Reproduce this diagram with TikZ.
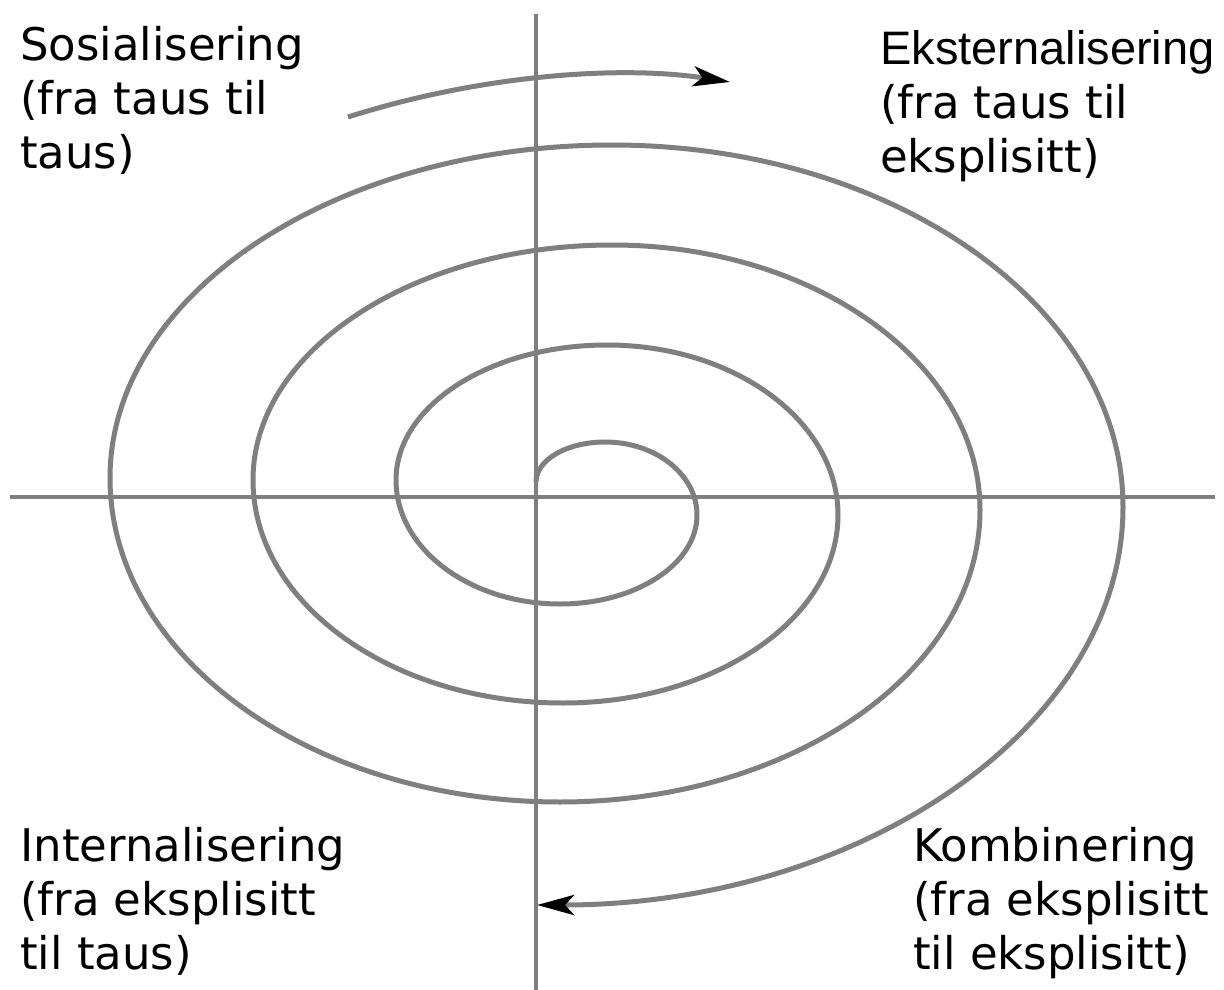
\documentclass[tikz,border=0pt]{standalone}
\usepackage{fontspec}
\setmainfont{DejaVu Sans}
\newfontfamily\ekfont{Liberation Sans}
\usetikzlibrary{arrows.meta}
\definecolor{linegray}{RGB}{127,127,127}
\begin{document}
\begin{tikzpicture}[x=1pt,y=1pt,
  axisline/.style={draw=linegray,line width=4.3pt},
  spiralline/.style={draw=linegray,line width=5pt},
  txt/.style={anchor=base west,inner sep=0pt,align=left,font=\fontsize{45}{54}\selectfont},
  tipend/.style={-{Stealth[length=37pt,width=20pt,inset=9pt,black]}}]
\useasboundingbox[fill=white] (0,0) rectangle (1224,-990);
% axes
\coordinate (vtop) at (536,-14);
\coordinate (vbot) at (536,-990);
\coordinate (hleft) at (10,-497);
\coordinate (hright) at (1215,-497);
\draw[axisline] (vtop) -- (vbot);
\draw[axisline] (hleft) -- (hright);
% spiral
\coordinate (s0) at (536,-482);
\draw[spiralline,tipend] (s0)
  arc[start angle=180,end angle=90,x radius=69pt,y radius=40pt]
  arc[start angle=90,end angle=0,x radius=92pt,y radius=73pt]
  arc[start angle=0,end angle=-90,x radius=137pt,y radius=89pt]
  arc[start angle=-90,end angle=-180,x radius=164pt,y radius=124pt]
  arc[start angle=180,end angle=90,x radius=211pt,y radius=135pt]
  arc[start angle=90,end angle=0,x radius=231pt,y radius=170pt]
  arc[start angle=0,end angle=-90,x radius=275pt,y radius=188pt]
  arc[start angle=-90,end angle=-180,x radius=310pt,y radius=223pt]
  arc[start angle=180,end angle=90,x radius=359pt,y radius=235pt]
  arc[start angle=90,end angle=0,x radius=368pt,y radius=265pt]
  arc[start angle=0,end angle=-90,x radius=420pt,y radius=292pt]
  arc[start angle=-90,end angle=-180,x radius=450pt,y radius=324pt]
  arc[start angle=180,end angle=90,x radius=502pt,y radius=333pt]
  arc[start angle=90,end angle=0,x radius=511pt,y radius=362pt]
  arc[start angle=0,end angle=-90,x radius=586pt,y radius=398pt];
% top arrow
\coordinate (a0) at (348,-117);
\coordinate (a1) at (730,-82);
\draw[spiralline,tipend] (a0) .. controls (480,-75) and (620,-65) .. (a1);
% labels (anchor on the baseline of the last line)
\node[txt] (sos) at (20,-168) {Sosialisering\\(fra taus til\\taus)};
\node[txt] (eks) at (880,-172) {{\ekfont\fontsize{47}{54}\selectfont Eksternalisering}\\(fra taus til\\eksplisitt)};
\node[txt] (int) at (20,-969) {Internalisering\\(fra eksplisitt\\til taus)};
\node[txt] (kom) at (913,-969) {Kombinering\\(fra eksplisitt\\til eksplisitt)};
\end{tikzpicture}
\end{document}
